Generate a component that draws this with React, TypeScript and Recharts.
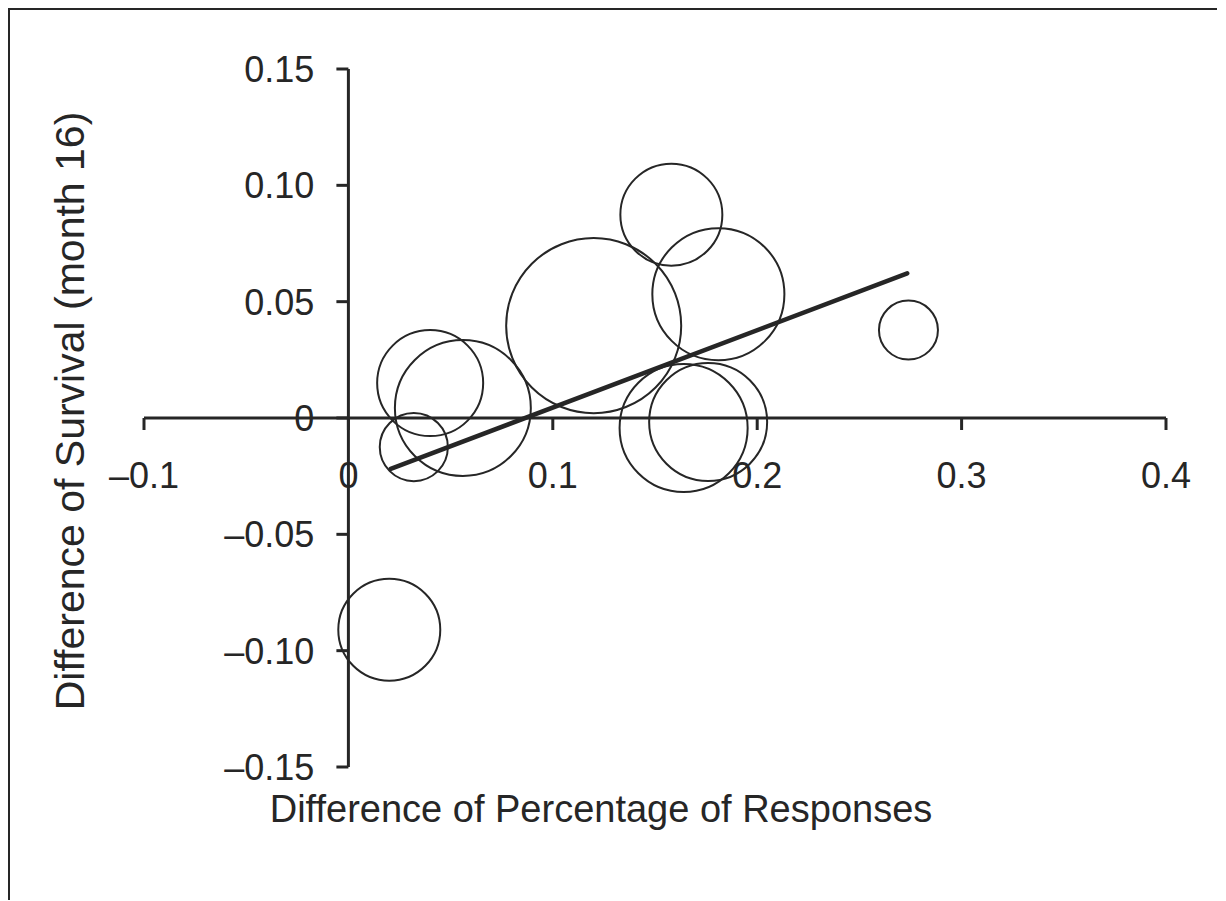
import React from 'react';
import { ScatterChart, Scatter, XAxis, YAxis, ZAxis, ReferenceLine, ReferenceDot } from 'recharts';

// bubble data
const respDiff = [0.020, 0.032, 0.040, 0.056, 0.120, 0.158, 0.181, 0.164, 0.176, 0.274];
const survDiff = [-0.091, -0.0125, 0.015, 0.0043, 0.0397, 0.0874, 0.0532, -0.0043, -0.0017, 0.0378];
const weights = [26.0, 11.6, 28.1, 46.2, 76.6, 26.0, 43.6, 41.0, 34.8, 8.7];

const xTicks = [-0.1, 0, 0.1, 0.2, 0.3, 0.4];
const xTickLabels = ['\u20130.1', '0', '0.1', '0.2', '0.3', '0.4'];
const yTicks = [0.15, 0.1, 0.05, 0, -0.05, -0.1, -0.15];
const yTickLabels = ['0.15', '0.10', '0.05', '0', '\u20130.05', '\u20130.10', '\u20130.15'];

// fitted line end points
const trendX = [0.0207, 0.2734];
const trendY = [-0.0219, 0.0622];

const INK = '#262626';
const FONT = '"Liberation Sans", Arial, sans-serif';

const points = respDiff.map((x, i) => ({ x, y: survDiff[i], z: weights[i] }));

const XTick = (label: string) => (p: any) => (
  <g>
    <line x1={p.cx} y1={p.cy} x2={p.cx} y2={p.cy + 12} stroke={INK} strokeWidth={3} />
    <text x={p.cx} y={p.cy + 70} textAnchor="middle" fontSize={36} fontFamily={FONT} fill={INK}>
      {label}
    </text>
  </g>
);

const YTick = (label: string) => (p: any) => (
  <g>
    <line x1={p.cx - 12} y1={p.cy} x2={p.cx} y2={p.cy} stroke={INK} strokeWidth={3} />
    <text x={p.cx - 34} y={p.cy + 13} textAnchor="end" fontSize={36} fontFamily={FONT} fill={INK}>
      {label}
    </text>
  </g>
);

export default function App() {
  return (
    <div
      style={{
        width: 1207,
        height: 890,
        borderLeft: `3px solid ${INK}`,
        borderTop: `3px solid ${INK}`,
        marginLeft: -1,
        marginTop: -1,
        background: '#fff',
      }}
    >
      <ScatterChart width={1207} height={890} margin={{ top: 59, right: 51, bottom: 133, left: 134 }}>
        <XAxis type="number" dataKey="x" domain={[-0.1, 0.4]} hide />
        <YAxis type="number" dataKey="y" domain={[-0.15, 0.15]} hide />
        <ZAxis type="number" dataKey="z" domain={[0, 80]} range={[0, 80 * Math.PI * 100]} />

        <ReferenceLine y={0} stroke={INK} strokeWidth={3} />
        <ReferenceLine x={0} stroke={INK} strokeWidth={3} />
        {xTicks.map((t, i) => (
          <ReferenceDot key={`x${i}`} x={t} y={0} r={0} shape={XTick(xTickLabels[i])} />
        ))}
        {yTicks.map((t, i) => (
          <ReferenceDot key={`y${i}`} x={0} y={t} r={0} shape={YTick(yTickLabels[i])} />
        ))}

        <Scatter data={points} fill="none" stroke={INK} strokeWidth={2} isAnimationActive={false} />

        <ReferenceLine
          segment={[
            { x: trendX[0], y: trendY[0] },
            { x: trendX[1], y: trendY[1] },
          ]}
          stroke={INK}
          strokeWidth={4.5}
          strokeLinecap="round"
        />

        <text x={591} y={812} textAnchor="middle" fontSize={38} fontFamily={FONT} fill={INK}>
          Difference of Percentage of Responses
        </text>
        <text
          x={74}
          y={401}
          textAnchor="middle"
          fontSize={41}
          fontFamily={FONT}
          fill={INK}
          transform="rotate(-90, 74, 401)"
        >
          Difference of Survival (month 16)
        </text>
      </ScatterChart>
    </div>
  );
}
